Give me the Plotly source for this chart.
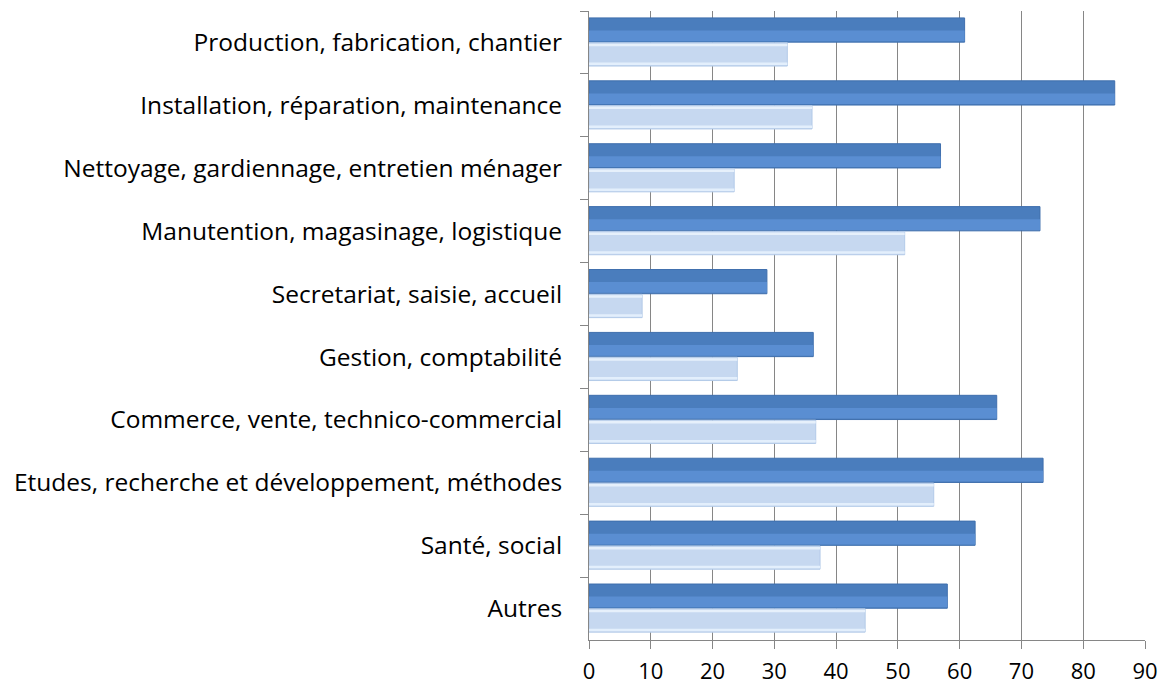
import plotly.graph_objects as go

categories = [
    "Production, fabrication, chantier",
    "Installation, réparation, maintenance",
    "Nettoyage, gardiennage, entretien ménager",
    "Manutention, magasinage, logistique",
    "Secretariat, saisie, accueil",
    "Gestion, comptabilité",
    "Commerce, vente, technico-commercial",
    "Etudes, recherche et développement, méthodes",
    "Santé, social",
    "Autres",
]
series_dark = [60.8, 85.1, 56.9, 73.0, 28.8, 36.3, 66.0, 73.5, 62.5, 58.0]
series_light = [32.1, 36.1, 23.5, 51.1, 8.6, 24.0, 36.7, 55.8, 37.4, 44.7]
x_ticks = [0, 10, 20, 30, 40, 50, 60, 70, 80, 90]

fig = go.Figure()

# dark series: base + lighter lower band (bevel look)
fig.add_trace(go.Bar(
    y=categories, x=series_dark, orientation="h",
    width=0.385, offset=-0.39,
    marker=dict(color="#4A7DBD", line=dict(color="#3F6FAD", width=1)),
    hoverinfo="x+y", showlegend=False,
))
fig.add_trace(go.Bar(
    y=categories, x=series_dark, orientation="h",
    width=0.17, offset=-0.19,
    marker=dict(color="#5A8ED2", line=dict(width=0)),
    hoverinfo="skip", showlegend=False,
))
# light series: base + highlight bands
fig.add_trace(go.Bar(
    y=categories, x=series_light, orientation="h",
    width=0.37, offset=0.005,
    marker=dict(color="#C6D8F0", line=dict(color="#B3CAE8", width=1)),
    hoverinfo="skip", showlegend=False,
))
fig.add_trace(go.Bar(
    y=categories, x=series_light, orientation="h",
    width=0.04, offset=0.02,
    marker=dict(color="#E6F0FB", line=dict(width=0)),
    hoverinfo="skip", showlegend=False,
))
fig.add_trace(go.Bar(
    y=categories, x=series_light, orientation="h",
    width=0.04, offset=0.32,
    marker=dict(color="#E3EFFC", line=dict(width=0)),
    hoverinfo="x+y", showlegend=False,
))

fig.update_layout(
    width=1162, height=688,
    barmode="overlay",
    paper_bgcolor="white", plot_bgcolor="white",
    margin=dict(l=589, r=17, t=11, b=48, autoexpand=False),
    font=dict(family="'Open Sans', sans-serif", size=24, color="#000000"),
)
fig.update_xaxes(
    range=[0, 90], tickvals=x_ticks, ticktext=[str(v) for v in x_ticks],
    showgrid=True, gridcolor="#868686", gridwidth=1,
    showline=True, linecolor="#868686", linewidth=1,
    ticks="outside", ticklen=8, tickcolor="#868686",
    ticklabelstandoff=4, automargin=False,
    zeroline=False, tickfont=dict(size=22),
)
fig.update_yaxes(
    autorange="reversed", categoryorder="array", categoryarray=categories,
    showgrid=False, showline=True, linecolor="#868686", linewidth=1,
    ticks="outside", ticklen=8, tickcolor="#868686", tickson="boundaries",
    ticklabelstandoff=21, automargin=False, tickfont=dict(size=24.5),
)

fig.write_html(
    "out.html",
    config={"displayModeBar": False},
    post_script="document.body.style.margin='0px';"
                "document.documentElement.style.overflow='hidden';",
)
